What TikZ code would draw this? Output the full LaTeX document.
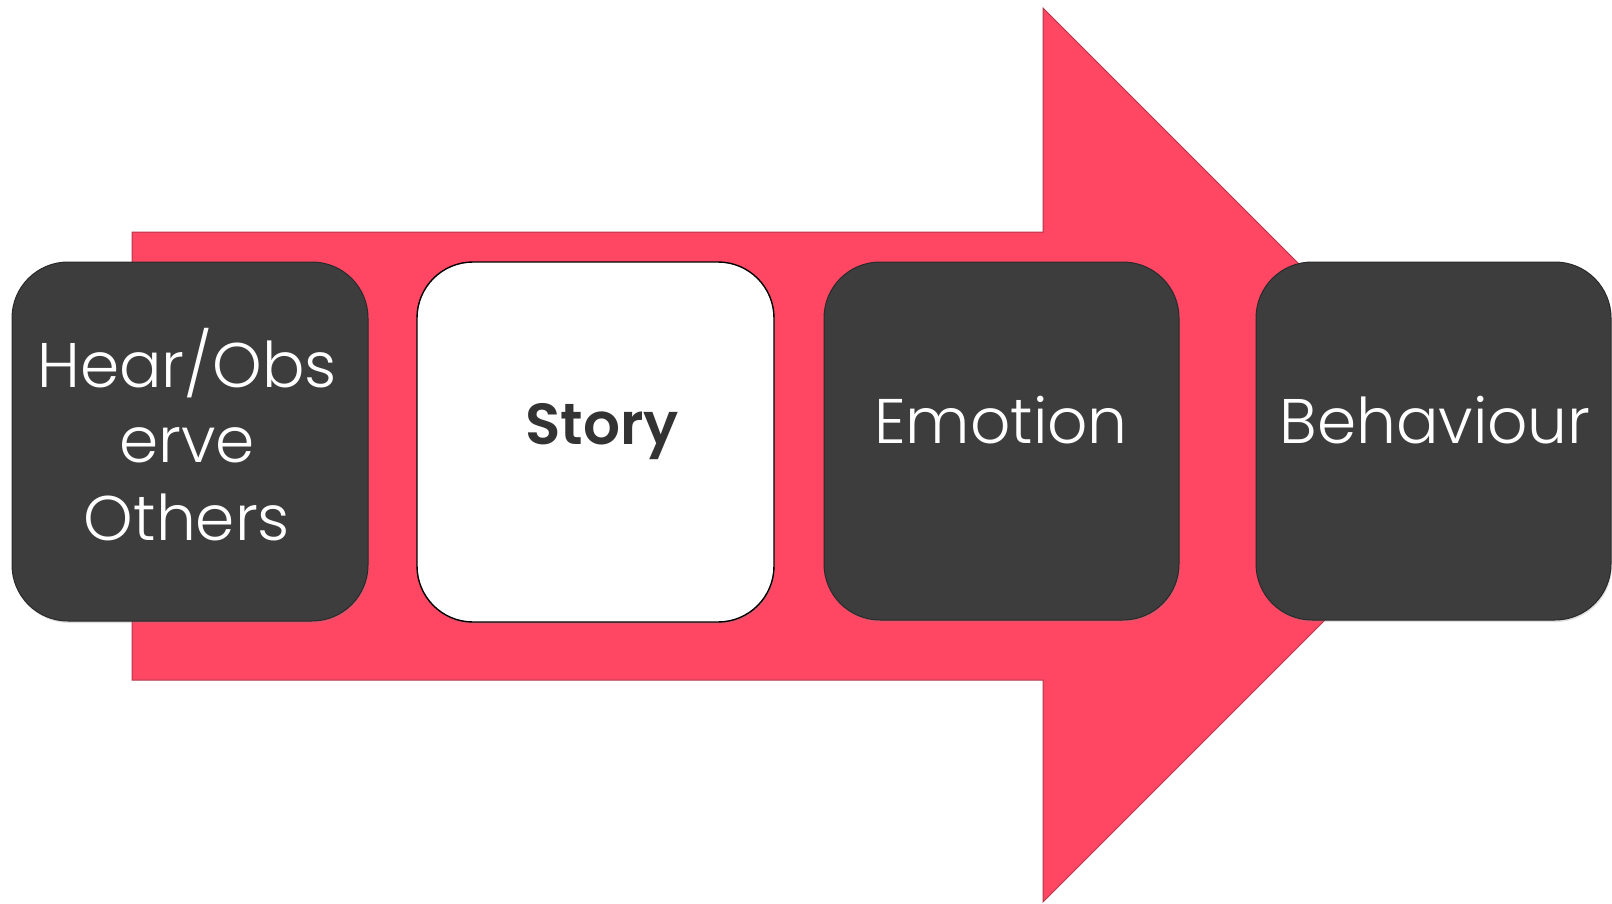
\documentclass[tikz,border=0pt]{standalone}
\usepackage{fontspec}
\setmainfont{Poppins}
\newfontfamily\lightfont{Poppins Light}
\newfontfamily\boldfont{Poppins SemiBold}
\usetikzlibrary{shadows}
\definecolor{arrowred}{HTML}{FF4764}
\definecolor{arrowedge}{HTML}{B8354B}
\definecolor{boxgray}{HTML}{3D3D3D}
\definecolor{boxedge}{HTML}{2A2A2A}
\definecolor{storytext}{HTML}{333333}
\begin{document}
\begin{tikzpicture}[x=1pt,y=-1pt,
  box/.style={rounded corners=56pt, line width=1pt},
  darkbox/.style={box, fill=boxgray, draw=boxedge,
    drop shadow={opacity=0.25, shadow xshift=1pt, shadow yshift=-2pt}},
  whitebox/.style={box, fill=white, draw=black, line width=1.4pt,
    drop shadow={opacity=0.25, shadow xshift=1pt, shadow yshift=-2pt}},
  lbl/.style={text=white, font=\lightfont\fontsize{63}{76}\selectfont, inner sep=0pt, anchor=base},
  boldlbl/.style={text=storytext, font=\boldfont\fontsize{58}{76}\selectfont, inner sep=0pt, anchor=base}]
  \useasboundingbox (0,0) rectangle (1612,903);

  % big arrow behind the steps
  \draw[fill=arrowred, draw=arrowedge, line width=1pt]
    (132,232) -- (1043,232) -- (1043,8) -- (1490,455) -- (1043,902)
    -- (1043,680) -- (132,680) -- cycle;

  % step boxes
  \path[darkbox]  (12,262)   rectangle (368,621);
  \path[whitebox] (417,262)  rectangle (774,622);
  \path[darkbox]  (824,262)  rectangle (1179,620);
  \path[darkbox]  (1256,262) rectangle (1611,620);

  % labels
  \node[lbl] (t1a) at (187,387) {Hear/Obs};
  \node[lbl] (t1b) at (187,462) {erve};
  \node[lbl] (t1c) at (187,540) {Others};
  \node[boldlbl] (t2) at (602,444) {Story};
  \node[lbl] (t3) at (1001,443) {Emotion};
  \node[lbl] (t4) at (1435,443) {Behaviour};
\end{tikzpicture}
\end{document}
